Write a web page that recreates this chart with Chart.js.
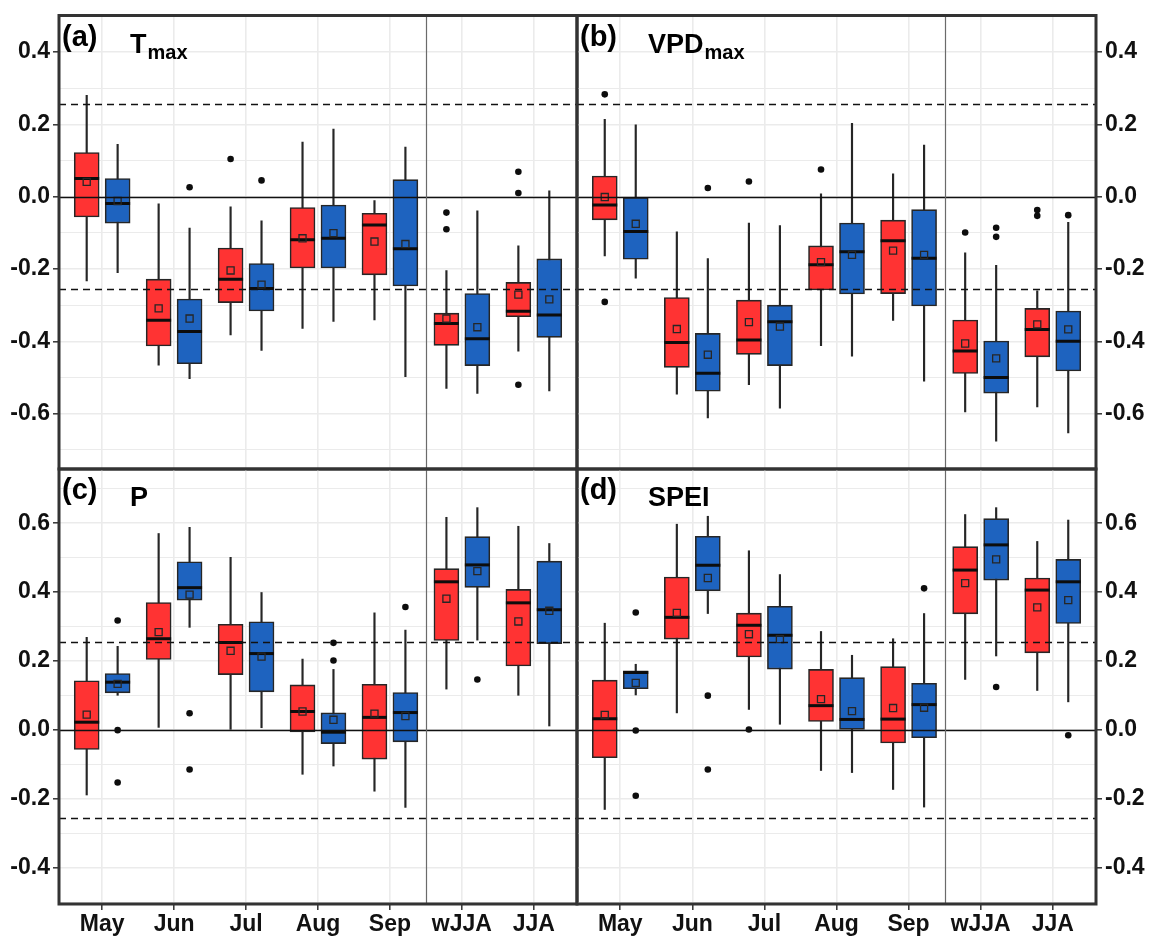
<!DOCTYPE html>
<html>
<head>
<meta charset="utf-8">
<script src="https://cdn.jsdelivr.net/npm/chart.js@4.4.1/dist/chart.umd.min.js"></script>
<style>
  body { margin: 0; background: #fff; }
  #wrap { position: relative; width: 1152px; height: 936px; }
  #wrap canvas { position: absolute; left: 0; top: 0; }
</style>
</head>
<body>
<div id="wrap">
  <canvas id="pa" width="1152" height="936"></canvas>
  <canvas id="pb" width="1152" height="936"></canvas>
  <canvas id="pc" width="1152" height="936"></canvas>
  <canvas id="pd" width="1152" height="936"></canvas>
</div>
<script>
const categories = ['May', 'Jun', 'Jul', 'Aug', 'Sep', 'wJJA', 'JJA'];

// each row: [lower whisker, q1, median, q3, upper whisker, mean]
const tmaxRed = [
  [-0.233, -0.056, 0.050, 0.122, 0.280, 0.041],
  [-0.466, -0.413, -0.342, -0.228, -0.020, -0.309],
  [-0.382, -0.293, -0.228, -0.142, -0.028, -0.204],
  [-0.364, -0.197, -0.119, -0.030, 0.151, -0.115],
  [-0.341, -0.216, -0.078, -0.046, -0.011, -0.124],
  [-0.530, -0.411, -0.351, -0.322, -0.204, -0.337],
  [-0.427, -0.332, -0.317, -0.237, -0.136, -0.271]
];
const tmaxBlue = [
  [-0.210, -0.073, -0.019, 0.050, 0.145, -0.012],
  [-0.503, -0.462, -0.373, -0.283, -0.087, -0.337],
  [-0.425, -0.316, -0.254, -0.185, -0.067, -0.243],
  [-0.345, -0.197, -0.115, -0.023, 0.187, -0.101],
  [-0.498, -0.247, -0.144, 0.047, 0.137, -0.131],
  [-0.544, -0.467, -0.393, -0.268, -0.039, -0.361],
  [-0.537, -0.389, -0.327, -0.172, 0.016, -0.284]
];
const tmaxRedOut = [['Jul', 0.104], ['wJJA', -0.044], ['wJJA', -0.090], ['JJA', 0.069], ['JJA', 0.010], ['JJA', -0.520]];
const tmaxBlueOut = [['Jun', 0.026], ['Jul', 0.045]];

const vpdRed = [
  [-0.164, -0.064, -0.023, 0.057, 0.214, -0.001],
  [-0.546, -0.472, -0.403, -0.279, -0.097, -0.366],
  [-0.520, -0.436, -0.396, -0.286, -0.073, -0.347],
  [-0.412, -0.258, -0.188, -0.136, 0.008, -0.181],
  [-0.342, -0.268, -0.122, -0.065, 0.063, -0.149],
  [-0.595, -0.489, -0.427, -0.341, -0.155, -0.406],
  [-0.581, -0.443, -0.367, -0.309, -0.260, -0.353]
];
const vpdBlue = [
  [-0.225, -0.173, -0.096, 0.000, 0.199, -0.075],
  [-0.612, -0.538, -0.488, -0.378, -0.171, -0.437],
  [-0.585, -0.467, -0.346, -0.300, -0.080, -0.359],
  [-0.441, -0.269, -0.152, -0.073, 0.203, -0.161],
  [-0.510, -0.302, -0.170, -0.036, 0.143, -0.161],
  [-0.676, -0.543, -0.500, -0.399, -0.190, -0.447],
  [-0.653, -0.482, -0.400, -0.316, -0.071, -0.367]
];
const vpdRedOut = [['May', 0.283], ['May', -0.291], ['Jul', 0.042], ['Aug', 0.075], ['wJJA', -0.099], ['JJA', -0.037], ['JJA', -0.053]];
const vpdBlueOut = [['Jun', 0.024], ['wJJA', -0.086], ['wJJA', -0.111], ['JJA', -0.051]];

const pRed = [
  [-0.188, -0.056, 0.023, 0.143, 0.269, 0.045],
  [0.008, 0.205, 0.265, 0.370, 0.570, 0.284],
  [0.000, 0.161, 0.254, 0.307, 0.501, 0.230],
  [-0.128, -0.005, 0.054, 0.131, 0.206, 0.054],
  [-0.177, -0.084, 0.037, 0.133, 0.340, 0.048],
  [0.119, 0.260, 0.430, 0.468, 0.617, 0.381],
  [0.101, 0.186, 0.369, 0.408, 0.591, 0.315]
];
const pBlue = [
  [0.101, 0.108, 0.139, 0.164, 0.243, 0.134],
  [0.298, 0.377, 0.413, 0.488, 0.588, 0.393],
  [0.007, 0.111, 0.222, 0.314, 0.399, 0.213],
  [-0.104, -0.039, -0.006, 0.050, 0.176, 0.030],
  [-0.224, -0.034, 0.051, 0.109, 0.290, 0.041],
  [0.261, 0.414, 0.479, 0.561, 0.645, 0.461],
  [0.012, 0.251, 0.349, 0.490, 0.541, 0.346]
];
const pRedOut = [];
const pBlueOut = [['May', 0.318], ['May', 0.000], ['May', -0.152], ['Jun', 0.049], ['Jun', -0.114], ['Aug', 0.253], ['Aug', 0.202], ['Sep', 0.357], ['wJJA', 0.147]];

const speiRed = [
  [-0.230, -0.080, 0.033, 0.145, 0.310, 0.044],
  [0.050, 0.264, 0.327, 0.444, 0.597, 0.340],
  [0.060, 0.212, 0.304, 0.339, 0.520, 0.278],
  [-0.117, 0.025, 0.071, 0.176, 0.286, 0.090],
  [-0.172, -0.037, 0.032, 0.184, 0.265, 0.064],
  [0.147, 0.337, 0.464, 0.532, 0.625, 0.426],
  [0.115, 0.224, 0.406, 0.441, 0.547, 0.356]
];
const speiBlue = [
  [0.102, 0.120, 0.167, 0.172, 0.191, 0.137],
  [0.338, 0.404, 0.478, 0.562, 0.620, 0.441],
  [0.017, 0.177, 0.275, 0.359, 0.451, 0.264],
  [-0.123, 0.000, 0.031, 0.152, 0.217, 0.055],
  [-0.223, -0.022, 0.074, 0.136, 0.338, 0.065],
  [0.215, 0.435, 0.537, 0.613, 0.645, 0.495],
  [0.082, 0.309, 0.430, 0.495, 0.609, 0.377]
];
const speiRedOut = [['Jul', 0.002]];
const speiBlueOut = [['May', 0.341], ['May', -0.001], ['May', -0.190], ['Jun', 0.100], ['Jun', -0.114], ['Sep', 0.411], ['wJJA', 0.125], ['JJA', -0.015]];

const topRange = [-0.753, 0.501];
const bottomRange = [-0.504, 0.757];
const sigLevel = 0.255;
const groupSplit = 5.5;

const RED = '#FF3333';
const BLUE = '#1E63BF';
const INK = '#262626';
const FONT = '"Liberation Sans", Arial, sans-serif';
const W = 1152, H = 936;

const isMajor = v => Math.round(v * 10) % 2 === 0;

const decorPlugin = {
  id: 'decor',
  afterDatasetsDraw(chart, args, o) {
    const { ctx, chartArea: a, scales: { x, y } } = chart;
    ctx.save();
    ctx.beginPath();
    ctx.rect(a.left, a.top, a.width, a.height);
    ctx.clip();
    const hline = (v, dash) => {
      const py = Math.round(y.getPixelForValue(v)) + 0.5;
      ctx.setLineDash(dash);
      ctx.beginPath();
      ctx.moveTo(a.left, py);
      ctx.lineTo(a.right, py);
      ctx.stroke();
    };
    ctx.strokeStyle = '#111';
    ctx.lineWidth = 1.5;
    hline(0, []);
    hline(sigLevel, [7, 5]);
    hline(-sigLevel, [7, 5]);
    ctx.setLineDash([]);
    const sx = Math.round(x.getPixelForValue(groupSplit)) + 0.5;
    ctx.strokeStyle = '#6b6b6b';
    ctx.lineWidth = 1.2;
    ctx.beginPath();
    ctx.moveTo(sx, a.top);
    ctx.lineTo(sx, a.bottom);
    ctx.stroke();
    ctx.restore();

    ctx.save();
    ctx.strokeStyle = '#333';
    ctx.lineWidth = 3;
    ctx.strokeRect(a.left, a.top, a.width, a.height);
    ctx.fillStyle = '#000';
    ctx.textBaseline = 'alphabetic';
    ctx.font = 'bold 29px ' + FONT;
    ctx.fillText(o.tag, a.left + 3, a.top + 30);
    ctx.font = 'bold 27px ' + FONT;
    const tx = a.left + 71;
    ctx.fillText(o.title, tx, a.top + 37);
    if (o.sub) {
      const tw = ctx.measureText(o.title).width;
      ctx.font = 'bold 20px ' + FONT;
      ctx.fillText(o.sub, tx + tw + 1, a.top + 43);
    }
    ctx.restore();
  }
};

function makePanel(id, p) {
  const off = 0.215;
  const xAt = (i, side) => i + 1 + side * off;
  const catX = (name, side) => xAt(categories.indexOf(name), side);
  const yLeft = p.yPos === 'left';
  const xAxisH = p.showX ? 32 : 0;
  const a = p.area;

  const whiskers = [
    ...p.red.map((r, i) => ({ x: xAt(i, -1), y: [r[0], r[4]] })),
    ...p.blue.map((r, i) => ({ x: xAt(i, 1), y: [r[0], r[4]] }))
  ];
  const boxes = (rows, side) => rows.map((r, i) => ({ x: xAt(i, side), y: [r[1], r[3]] }));
  const medians = [
    ...p.red.map((r, i) => ({ x: xAt(i, -1), y: r[2] })),
    ...p.blue.map((r, i) => ({ x: xAt(i, 1), y: r[2] }))
  ];
  const means = [
    ...p.red.map((r, i) => ({ x: xAt(i, -1), y: r[5] })),
    ...p.blue.map((r, i) => ({ x: xAt(i, 1), y: r[5] }))
  ];
  const outliers = [
    ...p.redOut.map(d => ({ x: catX(d[0], -1), y: d[1] })),
    ...p.blueOut.map(d => ({ x: catX(d[0], 1), y: d[1] }))
  ];

  new Chart(document.getElementById(id), {
    type: 'bar',
    data: {
      datasets: [
        { type: 'bar', data: whiskers, backgroundColor: INK, barThickness: 1.5, grouped: false, order: 5 },
        { type: 'bar', data: boxes(p.red, -1), backgroundColor: RED, borderColor: INK, borderWidth: 1.6,
          borderSkipped: false, barThickness: 25, grouped: false, order: 4 },
        { type: 'bar', data: boxes(p.blue, 1), backgroundColor: BLUE, borderColor: INK, borderWidth: 1.6,
          borderSkipped: false, barThickness: 25, grouped: false, order: 4 },
        { type: 'scatter', data: medians, pointStyle: 'line', radius: 12.5, hoverRadius: 12.5,
          borderWidth: 3, borderColor: '#0d0d0d', order: 3 },
        { type: 'scatter', data: means, pointStyle: 'rect', radius: 5, hoverRadius: 5,
          backgroundColor: 'rgba(0,0,0,0)', borderColor: INK, borderWidth: 1.3, order: 2 },
        { type: 'scatter', data: outliers, pointStyle: 'circle', radius: 3.3, hoverRadius: 3.3,
          backgroundColor: '#0d0d0d', borderWidth: 0, order: 1 }
      ]
    },
    options: {
      responsive: false,
      animation: false,
      events: [],
      layout: {
        padding: {
          left: yLeft ? 0 : a.left,
          right: yLeft ? W - a.right : 0,
          top: a.top,
          bottom: H - a.bottom - xAxisH
        }
      },
      plugins: {
        legend: { display: false },
        tooltip: { enabled: false },
        decor: { tag: p.tag, title: p.title, sub: p.sub }
      },
      scales: {
        x: {
          type: 'linear',
          min: 0.4,
          max: 7.6,
          offset: false,
          afterBuildTicks: s => { s.ticks = categories.map((c, i) => ({ value: i + 1 })); },
          afterFit: s => { s.height = xAxisH; s.paddingLeft = 0; s.paddingRight = 0; },
          ticks: {
            display: p.showX,
            autoSkip: false,
            maxRotation: 0,
            padding: 1,
            color: '#111',
            font: { family: FONT, size: 23, weight: 'bold' },
            callback: v => categories[Math.round(v) - 1]
          },
          grid: { color: '#EBEBEB', lineWidth: 1.6, offset: false, drawTicks: p.showX,
                  tickColor: '#333', tickLength: 6, tickWidth: 1.5 },
          border: { display: false }
        },
        y: {
          position: p.yPos,
          min: p.range[0],
          max: p.range[1],
          afterFit: s => {
            s.width = yLeft ? a.left : W - a.right;
            s.paddingTop = 0; s.paddingBottom = 0;
          },
          ticks: {
            stepSize: 0.1,
            includeBounds: false,
            autoSkip: false,
            padding: 3,
            color: '#111',
            font: { family: FONT, size: 23, weight: 'bold' },
            callback: v => isMajor(v) ? (Math.round(v * 10) / 10).toFixed(1) : ''
          },
          grid: {
            color: '#EBEBEB',
            lineWidth: c => isMajor(c.tick.value) ? 1.6 : 1.1,
            tickColor: c => isMajor(c.tick.value) ? '#333' : 'rgba(0,0,0,0)',
            tickLength: 6,
            tickWidth: 1.5
          },
          border: { display: false }
        }
      }
    },
    plugins: [decorPlugin]
  });
}

makePanel('pa', { tag: '(a)', title: 'T', sub: 'max', red: tmaxRed, blue: tmaxBlue,
  redOut: tmaxRedOut, blueOut: tmaxBlueOut, range: topRange, yPos: 'left', showX: false,
  area: { left: 59, right: 577, top: 11, bottom: 469 } });
makePanel('pb', { tag: '(b)', title: 'VPD', sub: 'max', red: vpdRed, blue: vpdBlue,
  redOut: vpdRedOut, blueOut: vpdBlueOut, range: topRange, yPos: 'right', showX: false,
  area: { left: 577, right: 1096, top: 11, bottom: 469 } });
makePanel('pc', { tag: '(c)', title: 'P', sub: '', red: pRed, blue: pBlue,
  redOut: pRedOut, blueOut: pBlueOut, range: bottomRange, yPos: 'left', showX: true,
  area: { left: 59, right: 577, top: 469, bottom: 904 } });
makePanel('pd', { tag: '(d)', title: 'SPEI', sub: '', red: speiRed, blue: speiBlue,
  redOut: speiRedOut, blueOut: speiBlueOut, range: bottomRange, yPos: 'right', showX: true,
  area: { left: 577, right: 1096, top: 469, bottom: 904 } });
</script>
</body>
</html>
